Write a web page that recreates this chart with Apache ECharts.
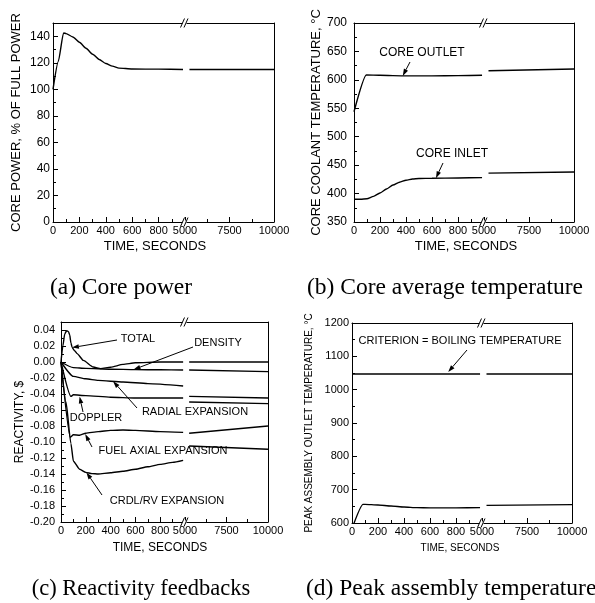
<!DOCTYPE html>
<html>
<head>
<meta charset="utf-8">
<script src="https://cdn.jsdelivr.net/npm/echarts@6/dist/echarts.min.js"></script>
<style>
  html, body { margin: 0; padding: 0; background: #fff; }
  #chart { width: 595px; height: 603px; }
</style>
</head>
<body>
<div id="chart"></div>
<script>
// ---- data (time in seconds; early part 0-1000 s, late part 5000-10000 s) ----

// (a) core power, % of full power
const powerT1 = [0, 40, 80, 100, 150, 200, 250, 300, 350, 400, 450, 500, 600, 800, 985];
const powerV1 = [100, 121, 142.5, 142, 139.5, 135.5, 131, 126.5, 122.5, 119.5, 117.5, 116, 115.3, 115.2, 115];
const powerT2 = [5250, 10000];
const powerV2 = [115, 115];

// (b) core coolant temperature, degC
const outletT1 = [0, 95, 200, 400, 600, 800, 985];
const outletV1 = [544, 608.5, 608, 607, 607, 607.5, 608];
const outletT2 = [5250, 10000];
const outletV2 = [616, 619];
const inletT1 = [0, 50, 100, 150, 200, 250, 300, 350, 400, 450, 500, 600, 800, 985];
const inletV1 = [390, 390, 391, 395, 401, 408, 415, 420, 423.5, 425.5, 426.5, 427, 427.5, 428];
const inletT2 = [5250, 10000];
const inletV2 = [436, 438];

// (c) reactivity feedbacks, $
const totalT1 = [0, 15, 30, 45, 60, 70, 80, 90, 110, 130, 180, 260, 320, 400, 500, 600, 800, 985];
const totalV1 = [0, 0.02, 0.035, 0.039, 0.038, 0.034, 0.024, 0.018, 0.014, 0.0105, 0.002, -0.0063, -0.0083, -0.0065, -0.003, -0.001, 0, 0];
const totalT2 = [5250, 10000];
const totalV2 = [0, 0];
const densityT1 = [0, 100, 200, 400, 600, 800, 985];
const densityV1 = [0, -0.007, -0.008, -0.009, -0.0095, -0.0097, -0.010];
const densityT2 = [5250, 10000];
const densityV2 = [-0.010, -0.012];
const radialT1 = [0, 100, 200, 300, 500, 700, 985];
const radialV1 = [0, -0.018, -0.021, -0.023, -0.025, -0.027, -0.030];
const radialT2 = [5250, 10000];
const radialV2 = [-0.050, -0.052];
const dopplerT1 = [0, 80, 100, 200, 400, 600, 800, 985];
const dopplerV1 = [0, -0.043, -0.041, -0.042, -0.044, -0.045, -0.045, -0.045];
const dopplerT2 = [5250, 10000];
const dopplerV2 = [-0.043, -0.045];
const fuelT1 = [0, 75, 100, 150, 200, 300, 400, 500, 600, 800, 985];
const fuelV1 = [0, -0.094, -0.091, -0.0915, -0.089, -0.087, -0.0855, -0.085, -0.0855, -0.087, -0.088];
const fuelT2 = [5250, 10000];
const fuelV2 = [-0.089, -0.080];
const crdlT1 = [0, 40, 80, 100, 150, 200, 250, 300, 400, 500, 600, 700, 800, 900, 985];
const crdlV1 = [0, -0.05, -0.102, -0.124, -0.134, -0.138, -0.1395, -0.140, -0.1385, -0.1365, -0.134, -0.131, -0.128, -0.1255, -0.123];
const crdlT2 = [5250, 10000];
const crdlV2 = [-0.105, -0.109];

// (d) peak assembly outlet temperature, degC
const peakT1 = [0, 85, 100, 200, 300, 400, 500, 600, 800, 985];
const peakV1 = [583, 656, 656, 654, 651, 648, 646, 645.5, 645.5, 646];
const peakT2 = [5250, 10000];
const peakV2 = [653, 655];
const boilT1 = [0, 985];
const boilV1 = [1047, 1047];
const boilT2 = [5250, 10000];
const boilV2 = [1047, 1047];

// ---- layout ----
const FONT = 'Liberation Sans, Arial, sans-serif';
const SERIF = 'Liberation Serif, Times New Roman, serif';

const chart = echarts.init(document.getElementById('chart'));
const option = { animation: false, backgroundColor: '#fff', grid: [], xAxis: [], yAxis: [], series: [] };

const axisLine = { show: true, onZero: false, lineStyle: { color: '#000', width: 1 } };

function xBottom(gi, min, max, interval, fmt, fs) {
  return {
    type: 'value', gridIndex: gi, position: 'bottom', min, max, interval,
    axisLine, splitLine: { show: false },
    axisTick: { show: true, inside: true, length: 5, lineStyle: { color: '#000' } },
    minorTick: { show: true, splitNumber: 2, length: 3, lineStyle: { color: '#000' } },
    axisLabel: { margin: 3, color: '#000', fontFamily: FONT, fontSize: fs, formatter: fmt }
  };
}
function xTop(gi, min, max) {
  return {
    type: 'value', gridIndex: gi, position: 'top', min, max,
    axisLine, axisTick: { show: false }, axisLabel: { show: false }, splitLine: { show: false }
  };
}

function addPanel(p, y, curves) {
  const g0 = option.grid.length;
  const h = p.bottom - p.top;
  option.grid.push({ left: p.left, top: p.top, width: p.brk - p.left, height: h });
  option.grid.push({ left: p.brk, top: p.top, width: p.right - p.brk, height: h });
  const x0 = option.xAxis.length;
  option.xAxis.push(xBottom(g0, 0, 1000, 200, v => (v === 1000 ? '' : String(v)), p.xfs));
  option.xAxis.push(xTop(g0, 0, 1000));
  option.xAxis.push(xBottom(g0 + 1, 5000, 10000, 2500, v => String(v), p.xfs));
  option.xAxis.push(xTop(g0 + 1, 5000, 10000));
  const y0 = option.yAxis.length;
  option.yAxis.push({
    type: 'value', gridIndex: g0, position: 'left', min: y.min, max: y.max, interval: y.interval,
    axisLine, splitLine: { show: false },
    axisTick: { show: true, inside: true, length: 5, lineStyle: { color: '#000' } },
    minorTick: { show: true, splitNumber: 2, length: 3, lineStyle: { color: '#000' } },
    axisLabel: { margin: y.margin, color: '#000', fontFamily: FONT, fontSize: y.fs, showMaxLabel: y.showMax,
      formatter: y.fmt || (v => String(v)) },
    name: y.name, nameLocation: 'middle', nameRotate: 90, nameGap: y.nameGap,
    nameTextStyle: { color: '#000', fontFamily: FONT, fontSize: y.nameFs }
  });
  option.yAxis.push({
    type: 'value', gridIndex: g0 + 1, position: 'right', min: y.min, max: y.max,
    axisLine, axisTick: { show: false }, axisLabel: { show: false }, splitLine: { show: false }
  });
  const idx = {};
  curves.forEach(c => {
    idx[c.key] = option.series.length;
    [[x0, y0, c.t1, c.v1], [x0 + 2, y0 + 1, c.t2, c.v2]].forEach(([xi, yi, t, v]) => {
      option.series.push({
        type: 'line', xAxisIndex: xi, yAxisIndex: yi, symbol: 'none', smooth: 0.2, smoothMonotone: 'x',
        lineStyle: { color: '#000', width: 1.4 },
        data: t.map((x, i) => [x, v[i]])
      });
    });
  });
  return idx;
}

const PA = { left: 53, brk: 185, right: 274, top: 23, bottom: 222, xfs: 11 };
const PB = { left: 354, brk: 484, right: 574, top: 23, bottom: 222, xfs: 11 };
const PC = { left: 61, brk: 185, right: 268, top: 322, bottom: 522, xfs: 11 };
const PD = { left: 352, brk: 482, right: 572, top: 323, bottom: 523, xfs: 11 };

const sA = addPanel(PA,
  { min: 0, max: 150, interval: 20, margin: 3, fs: 12, showMax: false, name: 'CORE POWER, % OF FULL POWER', nameGap: 30, nameFs: 13 },
  [{ key: 'power', t1: powerT1, v1: powerV1, t2: powerT2, v2: powerV2 }]);
const sB = addPanel(PB,
  { min: 350, max: 700, interval: 50, margin: 7, fs: 12, showMax: true, name: 'CORE COOLANT TEMPERATURE, \u00B0C', nameGap: 17, nameFs: 13 },
  [{ key: 'outlet', t1: outletT1, v1: outletV1, t2: outletT2, v2: outletV2 },
   { key: 'inlet', t1: inletT1, v1: inletV1, t2: inletT2, v2: inletV2 }]);
const sC = addPanel(PC,
  { min: -0.2, max: 0.05, interval: 0.02, margin: 6, fs: 11, showMax: false, name: 'REACTIVITY, $', nameGap: 31, nameFs: 12,
    fmt: v => (Math.abs(v) < 1e-9 ? '0.00' : v.toFixed(2)) },
  [{ key: 'total', t1: totalT1, v1: totalV1, t2: totalT2, v2: totalV2 },
   { key: 'density', t1: densityT1, v1: densityV1, t2: densityT2, v2: densityV2 },
   { key: 'radial', t1: radialT1, v1: radialV1, t2: radialT2, v2: radialV2 },
   { key: 'doppler', t1: dopplerT1, v1: dopplerV1, t2: dopplerT2, v2: dopplerV2 },
   { key: 'fuel', t1: fuelT1, v1: fuelV1, t2: fuelT2, v2: fuelV2 },
   { key: 'crdl', t1: crdlT1, v1: crdlV1, t2: crdlT2, v2: crdlV2 }]);
const sD = addPanel(PD,
  { min: 600, max: 1200, interval: 100, margin: 3, fs: 11, showMax: true, name: 'PEAK ASSEMBLY OUTLET TEMPERATURE, \u00B0C', nameGap: 38, nameFs: 10 },
  [{ key: 'peak', t1: peakT1, v1: peakV1, t2: peakT2, v2: peakV2 },
   { key: 'boil', t1: boilT1, v1: boilV1, t2: boilT2, v2: boilV2 }]);

chart.setOption(option);

// ---- decorations: axis breaks, axis titles, callouts, captions ----
const graphics = [];
function text(x, y, s, fs, family, align) {
  graphics.push({ type: 'text', x, y, z: 100,
    style: { text: s, fill: '#000', font: fs + 'px ' + family, textAlign: align || 'center', textVerticalAlign: 'middle' } });
}
function breakMark(x, y) {
  graphics.push({ type: 'rect', z: 100, shape: { x: x - 2.5, y: y - 1.5, width: 4, height: 3 }, style: { fill: '#fff' } });
  [-2.5, 1].forEach(o => graphics.push({ type: 'line', z: 101,
    shape: { x1: x + o - 2, y1: y + 4.5, x2: x + o + 2, y2: y - 4.5 }, style: { stroke: '#000', lineWidth: 1 } }));
}
function arrow(tail, tip) {
  const dx = tip[0] - tail[0], dy = tip[1] - tail[1];
  const len = Math.hypot(dx, dy), ux = dx / len, uy = dy / len;
  const hl = 7, hw = 2.3;
  const bx = tip[0] - ux * hl, by = tip[1] - uy * hl;
  graphics.push({ type: 'line', z: 100, shape: { x1: tail[0], y1: tail[1], x2: bx, y2: by }, style: { stroke: '#000', lineWidth: 1 } });
  graphics.push({ type: 'polygon', z: 100, shape: { points: [tip, [bx - uy * hw, by + ux * hw], [bx + uy * hw, by - ux * hw]] }, style: { fill: '#000' } });
}
function at(seriesIndex, pt) { return chart.convertToPixel({ seriesIndex }, pt); }

[PA, PB, PC, PD].forEach(p => { breakMark(p.brk, p.top); breakMark(p.brk, p.bottom); });

text(155, 246, 'TIME, SECONDS', 13, FONT);
text(466, 246, 'TIME, SECONDS', 13, FONT);
text(160, 548, 'TIME, SECONDS', 12, FONT);
text(460, 548, 'TIME, SECONDS', 10, FONT);

// (b) callouts
text(422, 53, 'CORE OUTLET', 12, FONT);
arrow([410, 62], at(sB.outlet, [375, 607]));
text(452, 154, 'CORE INLET', 12, FONT);
arrow([443, 163], at(sB.inlet, [630, 427]));

// (c) callouts
text(138, 339, 'TOTAL', 11, FONT);
arrow([117, 340], at(sC.total, [88, 0.018]));
text(218, 343, 'DENSITY', 11, FONT);
arrow([193, 347], at(sC.density, [585, -0.0095]));
text(195, 412, 'RADIAL EXPANSION', 11, FONT);
arrow([137, 408], at(sC.radial, [420, -0.024]));
text(96, 418, 'DOPPLER', 11, FONT);
arrow([83, 412], at(sC.doppler, [150, -0.043]));
text(163, 451, 'FUEL AXIAL EXPANSION', 11, FONT);
arrow([92, 447], at(sC.fuel, [195, -0.090]));
text(167, 501, 'CRDL/RV EXPANSION', 11, FONT);
arrow([102, 495], at(sC.crdl, [205, -0.138]));

// (d) callout
text(460, 341, 'CRITERION = BOILING TEMPERATURE', 11, FONT);
arrow([467, 350], at(sD.boil, [740, 1053]));

// captions
text(121, 288, '(a) Core power', 23.5, SERIF);
text(307, 288, '(b) Core average temperature', 23.5, SERIF, 'left');
text(141, 589, '(c) Reactivity feedbacks', 22.5, SERIF);
text(306, 589, '(d) Peak assembly temperature', 23.5, SERIF, 'left');

chart.setOption({ graphic: { elements: graphics } });
window.addEventListener('resize', () => chart.resize());
</script>
</body>
</html>
